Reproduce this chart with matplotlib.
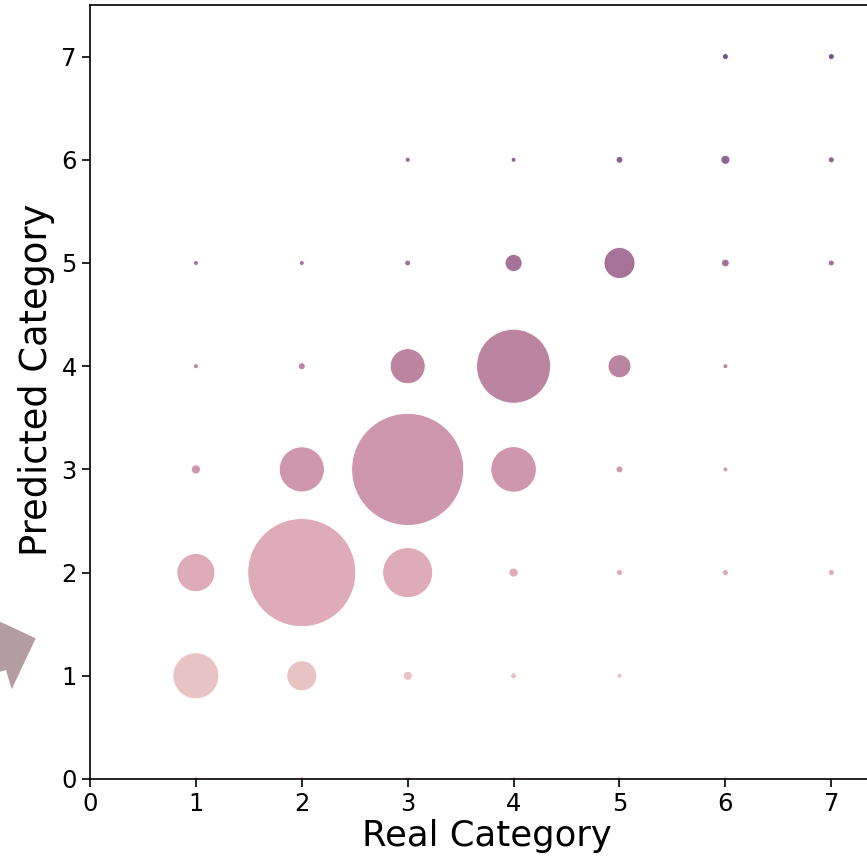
import numpy as np
import matplotlib
matplotlib.use("Agg")
import matplotlib.pyplot as plt
from matplotlib.patches import Polygon

# real category, predicted category, count
real = [1, 2, 3, 4, 5, 6,
        1, 2, 3, 4, 5,
        1, 2, 3, 4, 5, 6, 7,
        1, 2, 3, 4, 5, 6,
        1, 2, 3, 4, 5, 6,
        1, 2, 3, 4, 5, 6, 7,
        3, 4, 5, 6, 7,
        6, 7]
pred = [0, 0, 0, 0, 0, 0,
        1, 1, 1, 1, 1,
        2, 2, 2, 2, 2, 2, 2,
        3, 3, 3, 3, 3, 3,
        4, 4, 4, 4, 4, 4,
        5, 5, 5, 5, 5, 5, 5,
        6, 6, 6, 6, 6,
        7, 7]
count = [3, 3, 3, 3, 3, 3,
         181, 77, 7, 3, 2,
         124, 1000, 214, 7, 3, 3, 3,
         7, 174, 1075, 177, 4, 2,
         2, 4, 105, 469, 45, 2,
         2, 2, 3, 25, 82, 5, 3,
         2, 2, 4, 7, 3,
         3, 3]

level_colors = ["#f0d6d2", "#e7c3c4", "#ddacb8", "#ce97ad", "#bb85a1",
                "#a57398", "#8c6490", "#735689"]

fig = plt.figure(figsize=(8.67, 8.60), dpi=100)
ax = fig.add_axes([90 / 867, 81 / 860, 7.5 * 105.9 / 867, 774 / 860])

colors = [level_colors[p] for p in pred]
sizes = np.array(count) * 6.05
ax.scatter(real, pred, s=sizes, c=colors, edgecolors="white", linewidths=0.6)

ax.set_xlim(0, 7.5)
ax.set_ylim(0, 7.5)
ax.set_xticks(range(8))
ax.set_yticks(range(8))
ax.tick_params(labelsize=17.5, length=6, width=1.2)
for s in ax.spines.values():
    s.set_linewidth(1.2)
ax.set_xlabel("Real Category", fontsize=25.5, labelpad=2)
ax.set_ylabel("Predicted Category", fontsize=26.5)
ax.yaxis.set_label_coords(-0.044, 0.516)

# piece of arrow at the left edge
pts = [(0, 621.7), (35.7, 638.3), (11.7, 689.3), (6, 670), (0, 671.7)]
fig.patches.append(Polygon([(x / 867, 1 - y / 860) for x, y in pts],
                           closed=True, transform=fig.transFigure,
                           facecolor="#b49da1", edgecolor="none"))

fig.savefig("out.png", dpi=100)
